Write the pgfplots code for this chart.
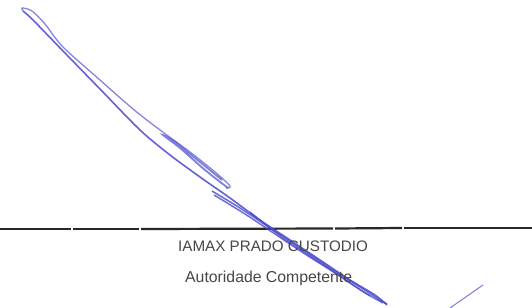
\documentclass[border=0pt]{standalone}
\usepackage{pgfplots}
\pgfplotsset{compat=1.18}
\usepackage{fontspec}
\setmainfont{Liberation Sans}
\definecolor{ink}{RGB}{72,72,205}
\definecolor{inklight}{RGB}{120,120,220}
\definecolor{txt}{RGB}{70,70,70}
\definecolor{rule}{RGB}{40,40,40}
\begin{document}
\begin{tikzpicture}
\begin{axis}[
  width=532bp, height=308bp, scale only axis,
  xmin=0, xmax=532, ymin=0, ymax=308, y dir=reverse,
  axis lines=box, axis line style={draw=none}, ticks=none,
  clip=true,
]
% horizontal rule with small gaps
\addplot[rule, line width=2.2bp] coordinates {(0,229) (71,229)};
\addplot[rule, line width=2.2bp] coordinates {(73,229) (139,229)};
\addplot[rule, line width=2.2bp] coordinates {(141,229) (333,228.5)};
\addplot[rule, line width=2.2bp] coordinates {(335,228.5) (402,228)};
\addplot[rule, line width=2.2bp] coordinates {(404,228) (532,228)};
% signature strokes
\addplot[ink, line width=1.6bp, opacity=0.85, smooth] coordinates {(23,11) (33,20) (63,51) (100,89) (140,130) (170,155) (200,177) (230,198) (260,220) (290,240) (320,260) (350,280) (375,295) (387,305)};
\addplot[inklight, line width=1.3bp, opacity=0.9, smooth] coordinates {(24,12) (22,8) (32,11) (45,24) (63,47) (100,80) (133,109) (160,130) (190,152) (215,172) (230,186) (226,188)};
\addplot[ink, line width=1.8bp, opacity=0.7, smooth] coordinates {(228,188) (205,170) (180,148) (163,135) (175,142) (200,162) (222,180)};
\addplot[ink, line width=1.6bp, opacity=0.8, smooth] coordinates {(212,191) (240,208) (270,228) (300,248) (330,268) (360,287) (380,300) (387,304)};
\addplot[ink, line width=1.5bp, opacity=0.8, smooth] coordinates {(214,195) (245,214) (275,234) (305,254) (335,273) (362,291) (383,303)};
\addplot[ink, line width=1.3bp, opacity=0.75, smooth] coordinates {(250,212) (280,236) (310,256) (340,276) (370,296)};
\addplot[inklight, line width=1.1bp, opacity=0.9] coordinates {(450,308) (483,285)};
% texts
\node[anchor=base west, inner sep=0pt, text=txt, font=\fontsize{15.2bp}{18bp}\selectfont] at (axis cs:178,251) {IAMAX PRADO CUSTODIO};
\node[anchor=base west, inner sep=0pt, text=txt, font=\fontsize{15.8bp}{18bp}\selectfont] at (axis cs:185,282) {Autoridade Competente};
\end{axis}
\end{tikzpicture}
\end{document}
